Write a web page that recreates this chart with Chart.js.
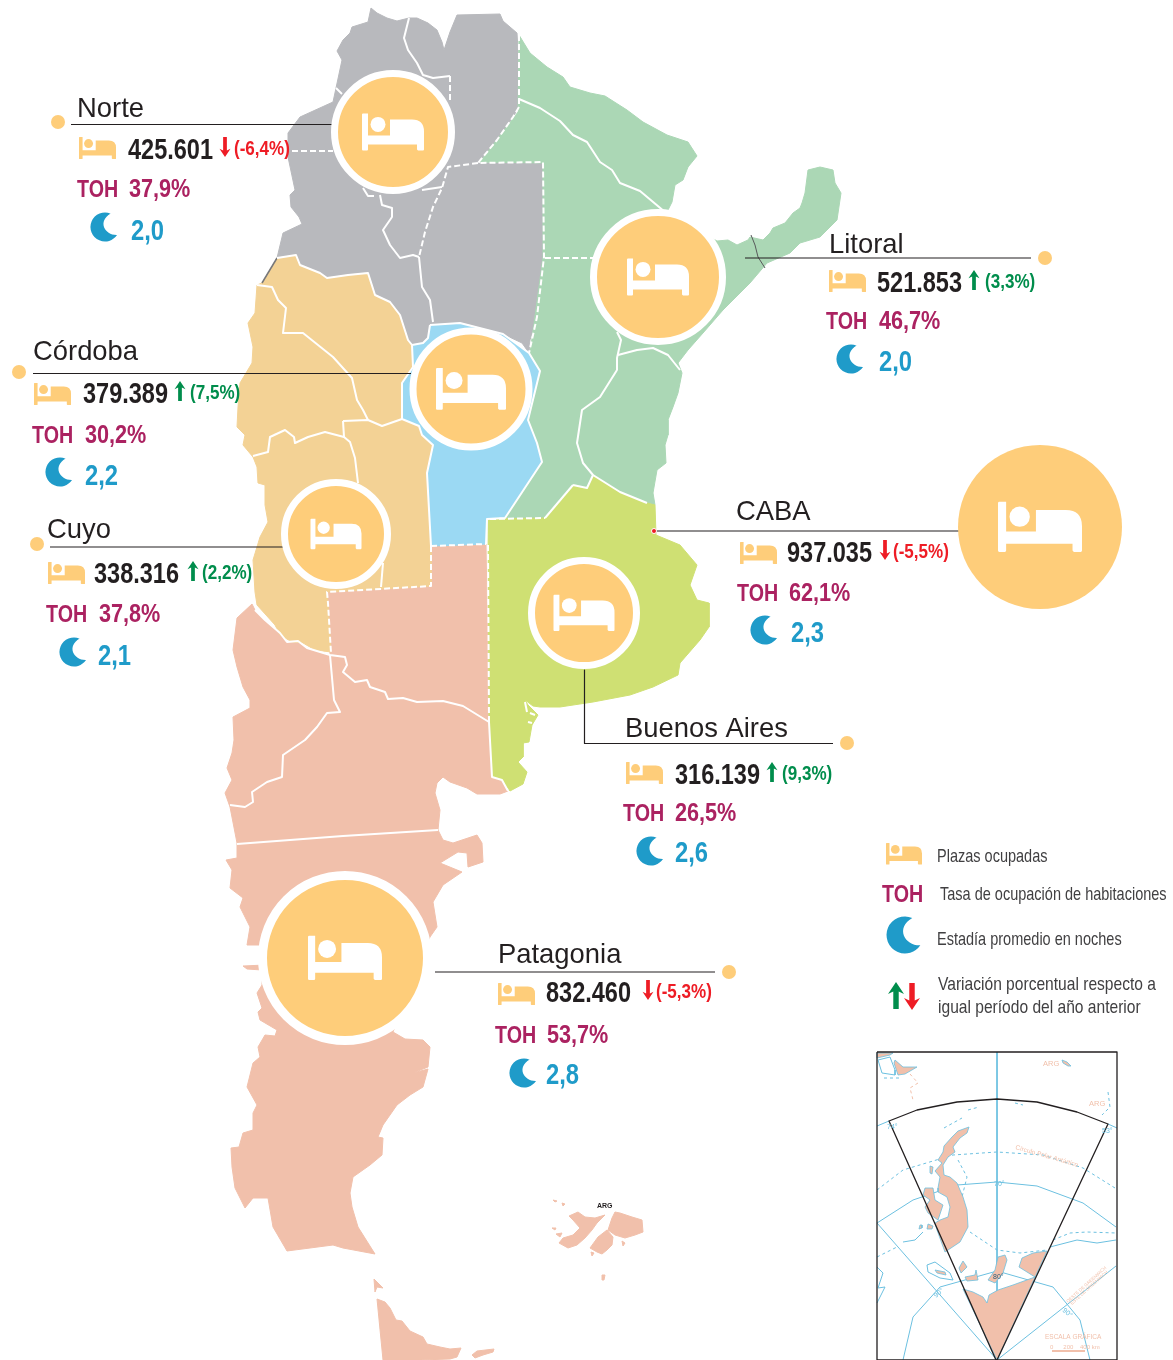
<!DOCTYPE html>
<html>
<head>
<meta charset="utf-8">
<title>Plazas ocupadas por región</title>
<script src="https://cdn.jsdelivr.net/npm/chart.js@4"></script>
<style>
  html, body { margin: 0; background: #fff; }
  canvas { display: block; }
</style>
</head>
<body>
<canvas id="map" width="1173" height="1360"></canvas>
<script>
// values
const regionNames = ['Norte', 'Litoral', 'Córdoba', 'Cuyo', 'CABA', 'Buenos Aires', 'Patagonia'];
const plazas = [425601, 521853, 379389, 338316, 937035, 316139, 832460];
const variacion = [-6.4, 3.3, 7.5, 2.2, -5.5, 9.3, -5.3];
const toh = [37.9, 46.7, 30.2, 37.8, 62.1, 26.5, 53.7];
const estadia = [2.0, 2.0, 2.2, 2.1, 2.3, 2.6, 2.8];
const legendLabels = ['Plazas ocupadas', 'Tasa de ocupación de habitaciones', 'Estadía promedio en noches',
  'Variación porcentual respecto a', 'igual período del año anterior'];

// bubbles on the map
const bubbleX = [393, 658, 471, 336, 1040, 584, 345];
const bubbleY = [132, 277, 389, 534, 527, 613, 958];
const bubbleSize = [55, 61, 54.5, 48, 82, 49, 78];
const rings = [7, 7, 7, 7, 0, 7, 9];
const bedWidth = [62, 62, 70, 51, 84, 61, 74];

// map outlines, in picture units
const norteOutline = [[371,8],[377,13],[387,18],[397,21],[409,18],[417,18],[428,23],[437,30],[442,42],[444,50],[450,32],[457,15],[500,14],[503,21],[517,33],[519,67],[519,107],[513,117],[497,140],[478,163],[543,162],[544,257],[537,317],[530,340],[529,353],[522,343],[503,334],[470,325],[460,323],[430,325],[428,338],[423,343],[412,345],[408,340],[400,315],[390,302],[375,295],[368,273],[348,275],[327,278],[320,273],[300,265],[296,255],[277,258],[283,233],[302,224],[299,217],[291,207],[290,195],[295,190],[288,157],[288,133],[300,117],[333,102],[342,60],[337,51],[343,40],[350,33],[352,27],[368,22]];
const litoralOutline = [[519,35],[530,53],[547,67],[563,77],[570,87],[590,93],[605,96],[627,110],[643,122],[667,135],[688,142],[697,156],[688,167],[683,180],[675,185],[672,202],[667,212],[717,241],[728,240],[737,245],[748,240],[750,237],[763,240],[770,233],[773,228],[785,223],[793,213],[800,208],[802,203],[805,193],[808,170],[820,167],[833,170],[835,183],[841,193],[837,220],[820,237],[800,243],[790,253],[767,263],[750,283],[740,293],[723,310],[703,333],[688,350],[678,363],[682,373],[678,393],[673,407],[668,420],[668,435],[665,445],[666,463],[657,470],[653,493],[655,505],[647,503],[620,492],[593,475],[587,488],[573,485],[545,518],[505,518],[542,463],[527,420],[539,371],[530,353],[543,257],[543,163],[480,162],[518,112]];
const cordobaOutline = [[430,325],[460,323],[503,334],[529,353],[540,371],[528,420],[537,443],[542,462],[505,518],[487,519],[486,544],[431,546],[427,473],[433,445],[422,435],[419,426],[402,419],[402,383],[413,367],[412,345],[423,343],[428,338]];
const cuyoOutline = [[277,258],[296,255],[300,265],[320,273],[327,278],[348,275],[368,273],[375,295],[390,302],[400,315],[408,340],[412,345],[413,367],[402,383],[402,419],[419,426],[422,435],[433,445],[427,473],[431,546],[431,586],[327,592],[328,603],[331,652],[315,650],[303,643],[292,642],[280,635],[275,625],[257,605],[255,592],[253,560],[260,537],[268,522],[265,505],[265,485],[258,483],[257,467],[253,457],[243,445],[245,435],[237,427],[238,407],[240,383],[252,363],[253,347],[248,323],[255,313],[257,285],[262,283]];
const bsasOutline = [[488,519],[545,518],[573,485],[587,488],[593,475],[620,492],[647,503],[655,505],[656,535],[680,545],[697,565],[690,585],[697,600],[709,603],[709,627],[700,640],[680,663],[678,675],[653,687],[630,695],[593,702],[560,707],[540,707],[533,706],[525,700],[528,705],[538,715],[532,725],[529,742],[523,743],[523,757],[518,762],[527,772],[523,784],[510,791],[502,780],[492,777],[489,722]];
const patagoniaOutline = [[327,592],[431,586],[431,546],[486,544],[489,722],[492,777],[502,780],[508,791],[500,794],[477,794],[467,788],[450,782],[443,777],[437,783],[435,793],[440,810],[438,830],[443,840],[453,843],[477,835],[482,843],[483,862],[468,867],[467,853],[458,852],[440,863],[462,872],[443,885],[433,902],[437,927],[430,937],[393,1032],[405,1039],[423,1040],[430,1047],[428,1067],[413,1073],[428,1069],[423,1087],[410,1095],[397,1105],[383,1125],[378,1137],[383,1138],[382,1155],[370,1165],[353,1177],[350,1193],[352,1207],[358,1227],[375,1254],[343,1248],[333,1245],[287,1251],[273,1227],[268,1198],[253,1198],[245,1208],[235,1188],[232,1167],[231,1148],[239,1147],[243,1133],[253,1130],[253,1113],[257,1105],[247,1087],[253,1063],[260,1057],[258,1047],[265,1035],[275,1036],[277,1030],[260,1020],[258,1012],[262,1008],[257,993],[262,985],[262,970],[247,969],[243,966],[265,965],[265,945],[247,945],[250,927],[240,907],[243,898],[230,888],[232,870],[226,860],[237,858],[237,843],[230,807],[225,793],[232,780],[227,768],[232,753],[234,740],[233,717],[250,708],[250,700],[243,687],[237,667],[233,650],[237,618],[252,604],[255,610],[265,620],[280,633],[287,642],[298,641],[307,648],[330,655]];
const fuegoNorte = [[374,1279],[383,1288],[377,1287],[375,1292]];
const fuegoOutline = [[377,1299],[385,1302],[390,1308],[396,1320],[402,1321],[410,1331],[423,1337],[427,1344],[440,1347],[450,1349],[461,1348],[457,1357],[450,1359],[420,1360],[383,1360]];
const estadosOutline = [[472,1355],[477,1351],[494,1349],[493,1352],[483,1355],[475,1358]];
const malvinasOeste = [[569,1216],[578,1212],[585,1217],[595,1218],[605,1215],[597,1223],[592,1230],[585,1238],[577,1245],[568,1248],[559,1243],[563,1238],[573,1235],[580,1228],[573,1220]];
const malvinasEste = [[615,1212],[620,1213],[632,1217],[642,1220],[643,1232],[635,1235],[625,1238],[615,1235],[608,1230],[612,1218]];
const malvinasLafonia = [[607,1230],[613,1237],[612,1245],[607,1250],[602,1254],[597,1252],[590,1248],[598,1237]];
const malvinasIslotes = [
  [[552,1228],[556,1228],[555,1230]],
  [[556,1234],[562,1233],[560,1237]],
  [[602,1275],[605,1275],[604,1280],[602,1280]],
  [[591,1252],[594,1253],[592,1256]],
  [[622,1241],[625,1243],[623,1246]],
  [[553,1200],[557,1201],[555,1202]],
  [[562,1203],[565,1204],[563,1206]]
];

const solidBorders = [
  [[409,18],[404,38],[408,50],[417,63],[423,75],[433,78],[450,76]],
  [[336,88],[342,94]],
  [[363,188],[368,196],[374,196]],
  [[380,195],[382,205],[392,208],[392,217],[383,230],[390,245],[400,258],[413,255],[419,257]],
  [[422,190],[442,187]],
  [[419,257],[422,287],[430,300],[433,322]],
  [[519,99],[540,108],[560,121],[573,135],[587,142],[600,162],[612,170],[620,183],[640,191],[665,212]],
  [[617,332],[621,340],[617,358],[617,370],[600,397],[582,410],[577,443],[583,463],[593,475]],
  [[618,355],[637,350],[653,348],[668,355],[680,370]],
  [[277,258],[296,255],[300,265],[320,273],[327,278],[348,275],[368,273],[375,295],[390,302],[400,315],[408,340],[412,345]],
  [[257,285],[272,287],[278,300],[286,308],[283,333],[303,333],[313,341],[333,357],[352,378],[357,400],[363,410],[368,420]],
  [[343,421],[368,420],[382,426],[402,419]],
  [[343,421],[344,437]],
  [[253,456],[268,452],[270,437],[285,430],[294,437],[295,443],[308,437],[325,432],[344,437],[350,442],[355,458],[358,483]],
  [[383,563],[381,587]],
  [[412,345],[413,367],[402,383],[402,419],[419,426],[422,435],[433,445],[427,473],[431,546]],
  [[430,325],[460,323],[503,334],[529,353],[540,371],[528,420],[537,443],[542,462],[505,518],[487,519],[486,544]],
  [[430,325],[428,338],[423,343],[412,345]],
  [[255,610],[265,620],[280,633],[287,642],[298,641],[307,648],[330,655],[345,657],[347,665],[343,672],[355,682],[367,680],[370,687],[385,692],[388,699],[403,698],[417,702],[443,701],[463,706],[489,722]],
  [[330,655],[334,700],[340,712],[327,713],[317,727],[305,740],[283,755],[282,777],[267,782],[252,792],[253,802],[245,807],[230,805]],
  [[237,844],[343,836],[438,830]],
  [[489,722],[492,777],[502,780],[508,791]],
  [[573,485],[587,488],[593,475],[620,492],[647,503]],
  [[545,518],[573,485]],
  [[525,702],[527,712]],
  [[530,713],[535,715]],
  [[528,722],[532,723]]
];
const dashedBorders = [
  [[519,35],[519,107],[513,117],[497,140],[478,163],[543,162],[544,257],[537,317],[529,353]],
  [[450,76],[450,100]],
  [[292,151],[333,151]],
  [[478,163],[448,167],[442,188],[433,207],[425,232],[419,257]],
  [[545,258],[593,258]],
  [[431,546],[486,544]],
  [[431,546],[431,586],[327,592],[328,603],[331,653]],
  [[488,545],[489,722]],
  [[490,519],[545,518]]
];

// inset: Antártida
const insetFrame = [[877,1052],[1117,1052],[1117,1360],[877,1360],[877,1052]];
const insetPeninsula = [[969,1127],[958,1131],[952,1137],[944,1146],[943,1152],[938,1160],[942,1163],[935,1171],[940,1177],[938,1188],[938,1192],[947,1197],[950,1207],[948,1217],[940,1220],[935,1223],[937,1230],[945,1252],[960,1242],[968,1227],[967,1210],[963,1197],[957,1183],[950,1177],[944,1175],[943,1165],[948,1157],[955,1152],[953,1147],[960,1138],[967,1133]];
const insetAlexander = [[925,1188],[933,1188],[935,1200],[943,1205],[938,1220],[928,1213],[925,1207],[930,1200],[923,1195]];
const insetContinent = [[963,1289],[973,1292],[983,1297],[987,1303],[989,1295],[998,1290],[1013,1285],[1035,1277],[1027,1272],[1019,1267],[1022,1258],[1033,1253],[1047,1251],[997,1360]];
const insetShelves = [
  [[1005,1255],[998,1257],[995,1270],[988,1280],[995,1283],[1003,1273],[1007,1260]],
  [[963,1261],[959,1268],[961,1273],[967,1267]],
  [[976,1270],[978,1280],[967,1281],[965,1277],[975,1275]],
  [[935,1270],[945,1272],[946,1275],[937,1273]],
  [[930,1166],[933,1167],[932,1174],[930,1173]],
  [[920,1225],[922,1225],[922,1228],[919,1229]],
  [[928,1224],[933,1226],[932,1229],[927,1229]],
  [[877,1053],[893,1053],[890,1055],[877,1058]],
  [[895,1060],[903,1067],[917,1067],[905,1074],[898,1075],[894,1063]],
  [[1062,1060],[1067,1062],[1071,1066],[1068,1066],[1063,1063]]
];
const insetBlue = [
  [[997,1052],[997,1360]],
  [[877,1126],[889,1121]],
  [[1108,1124],[1117,1128]],
  [[877,1223],[913,1200],[957,1185],[997,1182],[1037,1186],[1083,1203],[1116,1227]],
  [[903,1360],[913,1317],[940,1287],[997,1271],[1053,1287],[1080,1320],[1090,1360]],
  [[877,1223],[997,1360]],
  [[1116,1266],[997,1360]],
  [[903,1242],[915,1240],[923,1232]],
  [[927,1265],[935,1262],[950,1273],[953,1280],[940,1278],[928,1272],[927,1265]],
  [[1050,1247],[1077,1240],[1097,1243],[1116,1240]],
  [[877,1267],[883,1273],[878,1288],[885,1287],[877,1303]],
  [[878,1060],[890,1057],[895,1070],[895,1075],[882,1073],[878,1060]]
];
const insetBlueDashed = [
  [[877,1190],[903,1170],[953,1155],[997,1152],[1043,1155],[1083,1168],[1115,1188]],
  [[1053,1240],[1070,1233],[1087,1232],[1116,1233]],
  [[970,1232],[997,1250],[1020,1253],[1047,1250]],
  [[958,1160],[967,1177],[962,1197]],
  [[877,1257],[897,1247]],
  [[884,1078],[900,1078]],
  [[1108,1092],[1110,1107],[1102,1115]],
  [[944,1128],[962,1118]],
  [[968,1110],[979,1107]],
  [[1015,1103],[1023,1105]]
];
const insetPinkDashed = [[910,1074],[918,1083],[910,1088],[913,1100]];
const insetScaleBar = [[1052,1351],[1085,1351]];
const insetSector = [[996,1360],[889,1121],[917,1110],[957,1102],[997,1099],[1037,1102],[1077,1112],[1108,1124],[997,1360]];

// label placement on the picture
const nameX = [77, 829, 33, 47, 736, 625, 498];
const nameY = [117, 253, 360, 538, 520, 737, 963];
const bedX = [79, 829, 34, 48, 740, 626, 498];
const bedY = [137, 270, 383, 562, 542, 762, 983];
const valueX = [128, 877, 83, 94, 787, 675, 546];
const valueY = [159, 292, 403, 583, 562, 784, 1002];
const arrowX = [225, 974, 180, 193, 885, 772, 648];
const pctX = [234, 985, 190, 202, 893, 782, 656];
const tohX = [77, 826, 32, 46, 737, 623, 495];
const tohValueX = [129, 879, 85, 99, 789, 675, 547];
const tohY = [197, 329, 443, 622, 601, 821, 1043];
const moonX = [105, 851, 60, 74, 765, 651, 524];
const moonY = [227, 359, 472, 652, 630, 851, 1073];
const stayX = [131, 879, 85, 98, 791, 675, 546];
const stayY = [240, 371, 485, 665, 642, 862, 1084];
const leaderLines = [
  [[71,124.5],[333,124.5]],
  [[745,258],[1031,258]],
  [[33,373.5],[411,373.5]],
  [[50,547],[283,547]],
  [[655,531],[960,531]],
  [[584.5,670],[584.5,743.5],[833,743.5]],
  [[435,972],[715,972]]
];
const dotX = [58, 1045, 19, 37, null, 847, 729];
const dotY = [122, 258, 372, 544, null, 743, 972];

const ORANGE = '#fecd7a';
const INK = '#231f20';
const TOH_COLOR = '#ab2261';
const BLUE = '#1f9bc9';
const RED = '#ee1c25';
const GREEN = '#008d4c';
const PINK = '#f1c0ab';
const LINE_BLUE = '#6cc0e0';
const GREY_TEXT = '#414042';
const SANS = '"Liberation Sans", sans-serif';
const NARROW = 0.82;

const toPts = list => list.map(p => ({x: p[0], y: p[1]}));
const closed = list => toPts(list.concat([list[0]]));
const comma = (v, d) => v.toFixed(d).replace('.', ',');
const miles = v => String(v).replace(/\B(?=(\d{3})+$)/g, '.');

function poly(list, color, order, stroke) {
  return {
    type: 'line', data: closed(list), fill: 'shape', backgroundColor: color,
    borderColor: stroke || color, borderWidth: stroke ? 0.8 : 1, pointRadius: 0, order: order
  };
}

function path(list, color, width, dash, order) {
  return {
    type: 'line', data: toPts(list), fill: false, borderColor: color, borderWidth: width,
    borderDash: dash || [], pointRadius: 0, order: order, borderJoinStyle: 'round'
  };
}

function drawBed(ctx, x, y, w, color) {
  const s = w / 62;
  ctx.save();
  ctx.translate(x, y);
  ctx.scale(s, s);
  ctx.fillStyle = color;
  ctx.beginPath();
  ctx.moveTo(0, 1);
  ctx.quadraticCurveTo(0, 0, 1, 0);
  ctx.lineTo(6, 0);
  ctx.lineTo(6, 22);
  ctx.lineTo(28, 22);
  ctx.lineTo(28, 6);
  ctx.lineTo(50, 6);
  ctx.quadraticCurveTo(62, 6, 62, 18);
  ctx.lineTo(62, 36);
  ctx.quadraticCurveTo(62, 37, 61, 37);
  ctx.lineTo(56, 37);
  ctx.lineTo(55, 36);
  ctx.lineTo(55, 31);
  ctx.lineTo(6, 31);
  ctx.lineTo(6, 36);
  ctx.quadraticCurveTo(6, 37, 5, 37);
  ctx.lineTo(1, 37);
  ctx.quadraticCurveTo(0, 37, 0, 36);
  ctx.closePath();
  ctx.fill();
  ctx.beginPath();
  ctx.arc(16, 11, 7.5, 0, Math.PI * 2);
  ctx.fill();
  ctx.restore();
}

function drawMoon(ctx, cx, cy, r) {
  const s = r / 14.5;
  ctx.save();
  ctx.translate(cx, cy);
  ctx.scale(s, s);
  ctx.fillStyle = BLUE;
  ctx.beginPath();
  ctx.arc(0, 0, 14.5, -67 * Math.PI / 180, 34 * Math.PI / 180, true);
  ctx.bezierCurveTo(0, 8.5, -8, -5.5, 5.7, -13.4);
  ctx.closePath();
  ctx.fill();
  ctx.restore();
}

function drawArrow(ctx, x, top, w, h, up, color) {
  const t = w * 0.34;
  const head = w * 0.75;
  ctx.save();
  ctx.translate(x, up ? top : top + h);
  ctx.scale(1, up ? 1 : -1);
  ctx.fillStyle = color;
  ctx.beginPath();
  ctx.moveTo(0, 0);
  ctx.lineTo(w / 2, head);
  ctx.lineTo(t / 2, head * 0.8);
  ctx.lineTo(t / 2, h);
  ctx.lineTo(-t / 2, h);
  ctx.lineTo(-t / 2, head * 0.8);
  ctx.lineTo(-w / 2, head);
  ctx.closePath();
  ctx.fill();
  ctx.restore();
}

function text(ctx, str, x, y, font, color, opts) {
  const o = opts || {};
  ctx.save();
  ctx.font = font;
  ctx.fillStyle = color;
  ctx.textBaseline = 'alphabetic';
  ctx.translate(x, y);
  if (o.angle) ctx.rotate(o.angle * Math.PI / 180);
  if (o.narrow) ctx.scale(o.narrow, 1);
  ctx.fillText(str, 0, 0);
  ctx.restore();
}

const labelPlugin = {
  id: 'labels',
  afterDatasetsDraw(chart) {
    const ctx = chart.ctx;
    const sx = v => chart.scales.x.getPixelForValue(v);
    const sy = v => chart.scales.y.getPixelForValue(v);
    const nar = {narrow: NARROW};

    regionNames.forEach((name, i) => {
      drawBed(ctx, sx(bubbleX[i]) - bedWidth[i] / 2, sy(bubbleY[i]) - bedWidth[i] * 0.3, bedWidth[i], '#fff');
      text(ctx, name, sx(nameX[i]), sy(nameY[i]), '27.4px ' + SANS, INK);
      drawBed(ctx, sx(bedX[i]), sy(bedY[i]), 37, ORANGE);
      text(ctx, miles(plazas[i]), sx(valueX[i]), sy(valueY[i]), 'bold 28.7px ' + SANS, INK, nar);
      const up = variacion[i] > 0;
      const c = up ? GREEN : RED;
      drawArrow(ctx, sx(arrowX[i]), sy(valueY[i]) - 22, 11, 20, up, c);
      text(ctx, '(' + comma(variacion[i], 1) + '%)', sx(pctX[i]), sy(valueY[i]) - 4, 'bold 20.8px ' + SANS, c, nar);
      text(ctx, 'TOH', sx(tohX[i]), sy(tohY[i]), 'bold 24px ' + SANS, TOH_COLOR, nar);
      text(ctx, comma(toh[i], 1) + '%', sx(tohValueX[i]), sy(tohY[i]), 'bold 26.4px ' + SANS, TOH_COLOR, nar);
      drawMoon(ctx, sx(moonX[i]), sy(moonY[i]), 14.5);
      text(ctx, comma(estadia[i], 1), sx(stayX[i]), sy(stayY[i]), 'bold 29px ' + SANS, BLUE, nar);
    });

    // legend
    const lf = '17.7px ' + SANS;
    const lf2 = '19px ' + SANS;
    drawBed(ctx, 886, 843, 36, ORANGE);
    text(ctx, legendLabels[0], 937, 862, lf, GREY_TEXT, nar);
    text(ctx, 'TOH', 882, 902, 'bold 24px ' + SANS, TOH_COLOR, nar);
    text(ctx, legendLabels[1], 940, 900, lf, GREY_TEXT, nar);
    drawMoon(ctx, 905, 935, 18.5);
    text(ctx, legendLabels[2], 937, 945, lf, GREY_TEXT, nar);
    drawArrow(ctx, 896, 982, 16, 27, true, GREEN);
    drawArrow(ctx, 912, 983, 16, 27, false, RED);
    text(ctx, legendLabels[3], 938, 990, lf2, GREY_TEXT, nar);
    text(ctx, legendLabels[4], 938, 1013, lf2, GREY_TEXT, nar);

    // small labels on the map and inset
    text(ctx, 'ARG', 597, 1208, 'bold 7px ' + SANS, INK);
    const insetFont = '7.5px ' + SANS;
    text(ctx, 'ARG', 1043, 1066, insetFont, PINK);
    text(ctx, 'ARG', 1089, 1106, insetFont, PINK);
    text(ctx, 'Círculo Polar Antártico', 1015, 1149, '6.5px ' + SANS, PINK, {angle: 16});
    text(ctx, 'ESCALA GRÁFICA', 1045, 1339, '6.5px ' + SANS, PINK);
    text(ctx, '0      200    400 km', 1050, 1349, '6px ' + SANS, PINK);
    text(ctx, 'OESTE DE GREENWICH', 1068, 1303, '4.5px ' + SANS, PINK, {angle: -42});
    text(ctx, 'ESTE DE GREENWICH', 1072, 1305, '4.5px ' + SANS, PINK, {angle: -42});
    const degFont = '7px ' + SANS;
    text(ctx, '70°', 994, 1186, degFont, LINE_BLUE);
    text(ctx, '74°', 887, 1129, degFont, LINE_BLUE);
    text(ctx, '53°', 1102, 1133, degFont, LINE_BLUE);
    text(ctx, '80°', 993, 1279, degFont, '#2a5f7d');
    text(ctx, '90°', 936, 1298, degFont, LINE_BLUE, {angle: -40});
    text(ctx, '90°', 1062, 1311, degFont, LINE_BLUE, {angle: 40});
  }
};

const datasets = [
  poly(patagoniaOutline, PINK, 50),
  poly(fuegoNorte, PINK, 50),
  poly(fuegoOutline, PINK, 50),
  poly(estadosOutline, PINK, 50),
  poly(malvinasOeste, PINK, 50),
  poly(malvinasEste, PINK, 50),
  poly(malvinasLafonia, PINK, 50),
  poly(norteOutline, '#b8b9bd', 49),
  poly(litoralOutline, '#abd7b5', 48),
  poly(cuyoOutline, '#f3d295', 47),
  poly(cordobaOutline, '#9bd9f3', 46),
  poly(bsasOutline, '#cfe073', 45),
  path([[277,258],[262,283]], '#77787b', 1.5, null, 44),
  path([[751,235],[755,245],[758,257],[765,268]], '#58595b', 1, null, 44)
];
malvinasIslotes.forEach(b => datasets.push(poly(b, PINK, 50)));
solidBorders.forEach(b => datasets.push(path(b, '#fff', 2, null, 40)));
dashedBorders.forEach(b => datasets.push(path(b, '#fff', 2, [6, 3], 40)));

insetBlue.forEach(b => datasets.push(path(b, LINE_BLUE, 1, null, 34)));
insetBlueDashed.forEach(b => datasets.push(path(b, LINE_BLUE, 1, [3, 3], 34)));
datasets.push(path(insetPinkDashed, PINK, 1, [3, 3], 34));
datasets.push(path(insetScaleBar, PINK, 2, null, 34));
datasets.push(poly(insetPeninsula, PINK, 32, LINE_BLUE));
datasets.push(poly(insetAlexander, PINK, 32, LINE_BLUE));
datasets.push(poly(insetContinent, PINK, 32, LINE_BLUE));
insetShelves.forEach(b => datasets.push(poly(b, PINK, 32, LINE_BLUE)));
datasets.push(path(insetSector, INK, 1.3, null, 30));
datasets.push(path(insetFrame, INK, 1.3, null, 30));

leaderLines.forEach(b => datasets.push(path(b, INK, 1.2, null, 20)));

datasets.push({
  type: 'bubble',
  data: regionNames.map((n, i) => ({x: bubbleX[i], y: bubbleY[i], r: bubbleSize[i] + rings[i] / 2})),
  backgroundColor: ORANGE,
  borderColor: '#fff',
  borderWidth: rings,
  hoverBorderWidth: rings,
  order: 10
});
datasets.push({
  type: 'bubble',
  data: dotX.map((x, i) => ({x: x, y: dotY[i], r: 7})).filter(p => p.x !== null),
  backgroundColor: ORANGE,
  borderWidth: 0,
  order: 9
});
datasets.push({
  type: 'bubble',
  data: [{x: 654, y: 531, r: 2.5}],
  backgroundColor: RED,
  borderColor: '#fff',
  borderWidth: 1,
  order: 8
});

new Chart(document.getElementById('map'), {
  type: 'line',
  data: {datasets: datasets},
  plugins: [labelPlugin],
  options: {
    responsive: false,
    animation: false,
    events: [],
    layout: {padding: 0, autoPadding: false},
    plugins: {legend: {display: false}, tooltip: {enabled: false}},
    scales: {
      x: {type: 'linear', display: false, min: 0, max: 1173},
      y: {type: 'linear', display: false, min: 0, max: 1360, reverse: true}
    }
  }
});
</script>
</body>
</html>
